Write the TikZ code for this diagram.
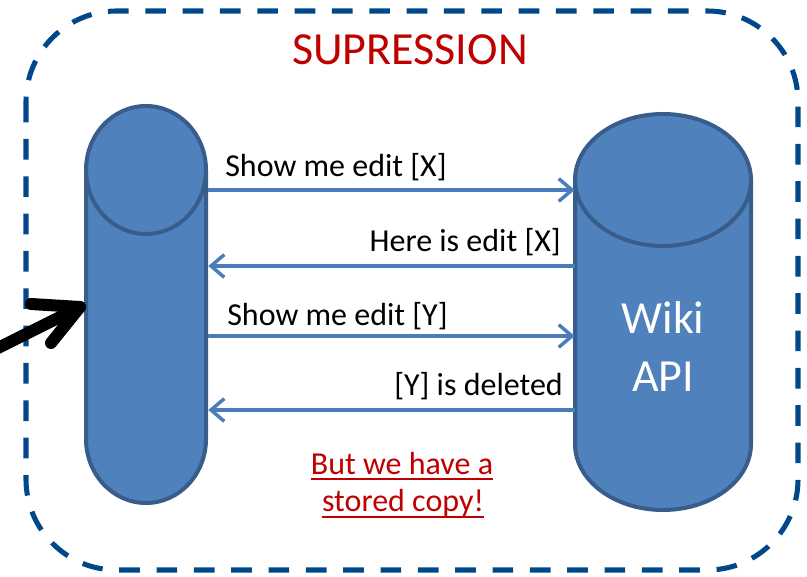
\documentclass[tikz,border=0pt]{standalone}
\usepackage{fontspec}
\setmainfont{Carlito}
\usetikzlibrary{arrows.meta}

\definecolor{framecol}{RGB}{0,72,138}
\definecolor{cylfill}{RGB}{79,129,189}
\definecolor{cylline}{RGB}{56,93,138}
\definecolor{msgcol}{RGB}{74,126,187}
\definecolor{alertred}{RGB}{192,0,0}

\tikzset{
  frame/.style={draw=framecol, line width=3.8pt, dash pattern=on 15.5pt off 12.5pt, rounded corners=68pt},
  cylbody/.style={fill=cylfill, draw=cylline, line width=3pt},
  region/.style={draw=none, inner sep=0pt},
  msg/.style={draw=msgcol, line width=2.6pt, -{Straight Barb[length=10pt, width=17pt, line width=2.6pt]}},
  msglabel/.style={inner sep=0pt, font=\fontsize{24}{29}\selectfont},
  apilabel/.style={inner sep=0pt, text=white, anchor=base, font=\fontsize{34.5}{41}\selectfont},
  note/.style={inner sep=0pt, text=alertred, font=\fontsize{24}{29}\selectfont},
  noteline/.style={draw=alertred, line width=1.6pt},
  pointer/.style={draw=black, line width=9pt, line cap=round, line join=round}
}

% cylinder standing upright: centre x, top y, bottom y, x radius, y radius (all in px, y downwards)
\newcommand\drawcylinder[5]{%
  \fill[cylfill] ({#1-#4},{-(#2+#5)}) -- ({#1-#4},{-(#3-#5)})
    arc[start angle=180, end angle=360, x radius=#4, y radius=#5]
    -- ({#1+#4},{-(#2+#5)}) -- cycle;
  \draw[cylbody, fill=none] ({#1-#4},{-(#2+#5)}) -- ({#1-#4},{-(#3-#5)})
    arc[start angle=180, end angle=360, x radius=#4, y radius=#5]
    -- ({#1+#4},{-(#2+#5)});
  \draw[cylbody] (#1,{-(#2+#5)}) ellipse [x radius=#4, y radius=#5];
}

\begin{document}
\begin{tikzpicture}[x=0.75pt, y=0.75pt]
\useasboundingbox (0,0) rectangle (807,-577);

% outer dashed frame
\draw[frame] (26,-11) rectangle (798,-570);

\node[text=alertred, inner sep=0pt, anchor=base, font=\fontsize{34.5}{41}\selectfont] (title) at (410,-65) {SUPRESSION};

% the two stores
\drawcylinder{146}{106}{503}{60}{64}
\drawcylinder{663}{114}{510}{88}{66}
\node[region, minimum width=93pt, minimum height=300pt] (client) at (146,-304.5) {};
\node[region, minimum width=132pt, minimum height=297pt] (api) at (663,-312) {};

\node[apilabel] (apiname1) at (663,-334) {Wiki};
\node[apilabel] (apiname2) at (663,-392) {API};

% request / response messages
\draw[msg] (client.east |- 0,-190) -- (api.west |- 0,-190);
\draw[msg] (api.west |- 0,-266) -- (client.east |- 0,-266);
\draw[msg] (client.east |- 0,-336) -- (api.west |- 0,-336);
\draw[msg] (api.west |- 0,-410) -- (client.east |- 0,-410);

\node[msglabel, anchor=base west] (m1) at (225,-177) {Show me edit [X]};
\node[msglabel, anchor=base east] (m2) at (561,-252) {Here is edit [X]};
\node[msglabel, anchor=base west] (m3) at (227,-326) {Show me edit [Y]};
\node[msglabel, anchor=base east] (m4) at (563,-396) {[Y] is deleted};

% stored-copy remark
\node[note, anchor=base] (n1) at (402,-474) {But we have a};
\node[note, anchor=base] (n2) at (403,-511) {stored copy!};
\draw[noteline] ([yshift=-3.6pt]n1.base west) -- ([yshift=-3.6pt]n1.base east);
\draw[noteline] ([yshift=-4.4pt]n2.base west) -- ([yshift=-4.4pt]n2.base east);

% black pointer coming in from the left
\coordinate (ptail) at (-6,-350);
\coordinate (ptip) at (80,-307);
\coordinate (parmA) at (31,-304);
\coordinate (parmB) at (51,-343);
\draw[pointer] (ptail) -- (ptip);
\draw[pointer] (parmA) -- (ptip) -- (parmB);
\end{tikzpicture}
\end{document}
